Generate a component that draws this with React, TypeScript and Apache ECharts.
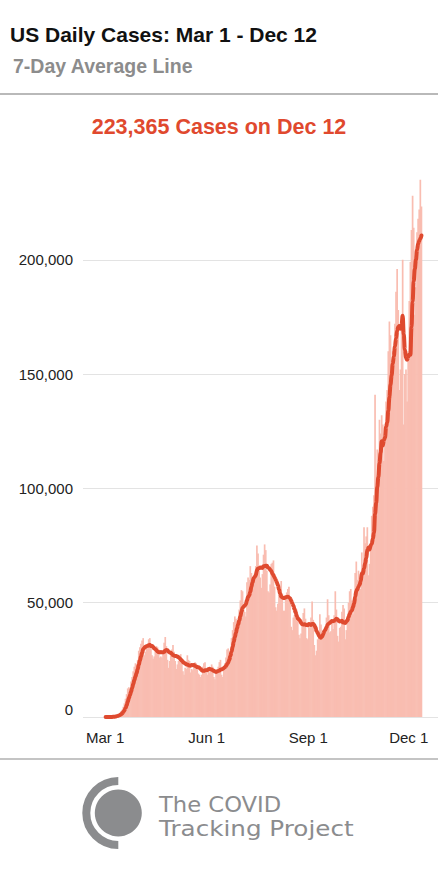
import React, { useEffect, useRef } from "react";
import * as echarts from "echarts";

// Day index 0 = Mar 1, 2020 ... 286 = Dec 12, 2020
const dailyCases: number[] = [
  // Mar 1 - Mar 7
  5, 15, 25, 40, 60, 90, 130,
  // Mar 8 - 14
  300, 450, 600, 800, 1000, 1300, 1700,
  // Mar 15 - 21
  2500, 3200, 4500, 6000, 8000, 10000, 12500,
  // Mar 22 - 28
  13000, 12500, 15500, 17500, 20000, 22000, 23500,
  // Mar 29 - Apr 4
  23000, 25000, 29000, 30500, 32000, 33500, 34500,
  // Apr 5 - 11
  27000, 28500, 31000, 31500, 34000, 34500, 31000,
  // Apr 12 - 18
  27000, 25500, 26500, 29000, 31000, 30500, 29500,
  // Apr 19 - 25
  26000, 26500, 26000, 28500, 32500, 35000, 31000,
  // Apr 26 - May 2
  25000, 21500, 24500, 27000, 29500, 31500, 28500,
  // May 3 - 9
  24500, 21000, 23000, 24500, 27000, 27500, 25500,
  // May 10 - 16
  20000, 18500, 21500, 21000, 27000, 25000, 24500,
  // May 17 - 23
  19500, 21000, 20500, 22000, 24000, 23500, 22500,
  // May 24 - 30
  19000, 18500, 17500, 18500, 22000, 23500, 24000,
  // May 31 - Jun 6
  19500, 18500, 20500, 19500, 20500, 23000, 22000,
  // Jun 7 - 13
  17500, 16500, 19000, 21000, 22000, 24000, 25000,
  // Jun 14 - 20
  18500, 17500, 21500, 23500, 26000, 29500, 30000,
  // Jun 21 - 27
  27500, 29000, 34500, 38000, 41500, 44000, 43000,
  // Jun 28 - Jul 4
  42000, 40000, 47000, 51000, 55500, 55000, 47000,
  // Jul 5 - 11
  46000, 44000, 59000, 61000, 60000, 66000, 63000,
  // Jul 12 - 18
  59000, 57000, 63000, 66000, 75000, 71500, 64000,
  // Jul 19 - 25
  61000, 56500, 62500, 71000, 75500, 73000, 64000,
  // Jul 26 - Aug 1
  55000, 54500, 58000, 67000, 67500, 68500, 57000,
  // Aug 2 - 8
  48000, 46500, 49500, 53500, 55000, 59500, 54000,
  // Aug 9 - 15
  46500, 46500, 51500, 54500, 56000, 57000, 52000,
  // Aug 16 - 22
  39500, 38000, 43500, 44500, 46000, 47000, 44000,
  // Aug 23 - 29
  36000, 34500, 36500, 40000, 45500, 47500, 43000,
  // Aug 30 - Sep 5
  34500, 34000, 40500, 39000, 43500, 50500, 42500,
  // Sep 6 - 12
  31500, 27000, 29000, 34000, 36000, 45000, 40500,
  // Sep 13 - 19
  34500, 34500, 38000, 39000, 43500, 51500, 44500,
  // Sep 20 - 26
  37000, 37500, 41000, 38500, 44500, 55000, 47000,
  // Sep 27 - Oct 3
  35500, 33000, 39000, 39500, 46000, 49000, 47500,
  // Oct 4 - 10
  34000, 38000, 42000, 50000, 55000, 56000, 51000,
  // Oct 11 - 17
  45000, 48000, 63000, 68000, 60000, 64000, 57000,
  // Oct 18 - 24
  56000, 72000, 63000, 83000, 76000, 79000, 83000,
  // Oct 25 - 31
  62000, 67000, 75000, 88000, 92000, 97000, 141000,
  // Nov 1 - 7
  95000, 117000, 105000, 130000, 124000, 132000, 128000,
  // Nov 8 - 14
  112000, 125000, 138000, 143000, 160000, 173000, 167000,
  // Nov 15 - 21
  140000, 160000, 162000, 172000, 186000, 196000, 178000,
  // Nov 22 - 28
  143000, 152000, 174000, 200000, 128000, 150000, 152000,
  // Nov 29 - Dec 5
  138000, 160000, 182000, 199000, 213000, 228000, 214000,
  // Dec 6 - Dec 12
  176000, 188000, 212000, 218000, 222000, 235000, 223365,
];

const xTickDays: number[] = [0, 92, 184, 275];
const xTickLabels: string[] = ["Mar 1", "Jun 1", "Sep 1", "Dec 1"];
const yTicks: number[] = [0, 50000, 100000, 150000, 200000];

const titleText = "US Daily Cases: Mar 1 - Dec 12";
const subtitleText = "7-Day Average Line";
const highlightText = "223,365 Cases on Dec 12";
const logoLines: string[] = ["The COVID", "Tracking Project"];

const FONT = "'Liberation Sans', Arial, Helvetica, sans-serif";
const BAR_COLOR = "#f9bdb1";
const LINE_COLOR = "#df4a2f";
const GRAY = "#8b8c8e";

export default function App() {
  const ref = useRef<HTMLDivElement>(null);

  useEffect(() => {
    if (!ref.current) return;
    const chart = echarts.init(ref.current, undefined, { renderer: "svg" });

    const barData = dailyCases.map((v, i) => [i + 0.5, v]);
    const avgData = dailyCases.map((_, i) => {
      const w = dailyCases.slice(Math.max(0, i - 6), i + 1);
      const s = w.reduce((a, b) => a + b, 0);
      return [i + 0.5, Math.round(s / w.length)];
    });

    const labelFor = (v: number) => {
      const idx = xTickDays.indexOf(Math.round(v));
      return idx >= 0 ? xTickLabels[idx] : "";
    };

    chart.setOption({
      animation: false,
      grid: { left: 83, right: 0, top: 145.5, bottom: 160, containLabel: false },
      xAxis: {
        type: "value",
        min: -20,
        max: 301.5,
        axisLine: { show: false },
        axisTick: { show: false },
        splitLine: { show: false },
        axisLabel: {
          customValues: xTickDays,
          formatter: (v: number) => labelFor(v),
          fontSize: 15,
          color: "#222",
          fontFamily: FONT,
          margin: 13,
        },
      },
      yAxis: {
        type: "value",
        min: 0,
        max: 250000,
        interval: 50000,
        axisLine: { show: false },
        axisTick: { show: false },
        splitLine: {
          show: true,
          showMaxLine: false,
          lineStyle: {
            color: ["#e3e3e3", "#e3e3e3", "#e3e3e3", "#e3e3e3", "#e3e3e3", "rgba(0,0,0,0)"],
            width: 1,
          },
        },
        axisLabel: {
          showMaxLabel: false,
          margin: 10,
          fontSize: 15,
          color: "#222",
          fontFamily: FONT,
          formatter: (v: number) => {
            if (yTicks.indexOf(v) < 0) return "";
            if (v === 0) return "{z|0}";
            return v.toLocaleString("en-US");
          },
          rich: {
            z: { padding: [0, 0, 16, 0], fontSize: 15, color: "#222", fontFamily: FONT },
          },
        },
      },
      series: [
        {
          type: "bar",
          data: barData,
          barWidth: 1.7,
          itemStyle: { color: BAR_COLOR },
          silent: true,
        },
        {
          type: "line",
          data: avgData,
          smooth: 0.4,
          smoothMonotone: "x",
          symbol: "none",
          lineStyle: { color: LINE_COLOR, width: 4, cap: "round", join: "round" },
          silent: true,
        },
      ],
      graphic: [
        {
          type: "text",
          x: 10,
          y: 34,
          style: {
            text: titleText,
            fill: "#111",
            fontSize: 21,
            fontWeight: "bold",
            fontFamily: FONT,
            align: "left",
            verticalAlign: "middle",
          },
        },
        {
          type: "text",
          x: 13,
          y: 66,
          style: {
            text: subtitleText,
            fill: "#8c8c8c",
            fontSize: 19.5,
            fontWeight: "bold",
            fontFamily: FONT,
            align: "left",
            verticalAlign: "middle",
          },
        },
        {
          type: "line",
          shape: { x1: 0, y1: 94, x2: 438, y2: 94 },
          style: { stroke: "#b9b9b9", lineWidth: 2 },
        },
        {
          type: "text",
          x: 219,
          y: 127,
          style: {
            text: highlightText,
            fill: "#e0492e",
            fontSize: 21.5,
            fontWeight: "bold",
            fontFamily: FONT,
            align: "center",
            verticalAlign: "middle",
          },
        },
        {
          type: "line",
          shape: { x1: 0, y1: 759, x2: 438, y2: 759 },
          style: { stroke: "#c4c4c4", lineWidth: 2 },
        },
        {
          type: "arc",
          shape: { cx: 118.3, cy: 813, r: 32, startAngle: Math.PI / 2, endAngle: Math.PI * 1.5, clockwise: true },
          style: { stroke: GRAY, lineWidth: 8, fill: null },
        },
        {
          type: "circle",
          shape: { cx: 118.3, cy: 813, r: 23.5 },
          style: { fill: GRAY },
        },
        {
          type: "text",
          x: 159,
          y: 804,
          scaleX: 1.03,
          style: {
            text: logoLines[0],
            fill: GRAY,
            fontSize: 22,
            fontFamily: "'DejaVu Sans', sans-serif",
            align: "left",
            verticalAlign: "middle",
          },
        },
        {
          type: "text",
          x: 159,
          y: 828,
          scaleX: 1.12,
          style: {
            text: logoLines[1],
            fill: GRAY,
            fontSize: 22,
            fontFamily: "'DejaVu Sans', sans-serif",
            align: "left",
            verticalAlign: "middle",
          },
        },
      ],
    });

    return () => chart.dispose();
  }, []);

  return (
    <div
      ref={ref}
      style={{ position: "fixed", left: 0, top: 0, width: 438, height: 877, background: "#fff" }}
    />
  );
}
